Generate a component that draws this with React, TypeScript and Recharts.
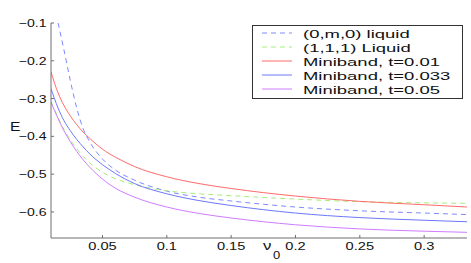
import { LineChart, Line, XAxis, YAxis } from 'recharts';

// filling factor nu_0 (x) and energies E (y)
const nu = [0.01, 0.0155, 0.02, 0.025, 0.03, 0.035, 0.04, 0.05, 0.06, 0.075, 0.1, 0.125, 0.15, 0.2, 0.25, 0.3, 0.3333];
const liquid0m0 = [null, -0.1, -0.17, -0.252, -0.325, -0.38, -0.414, -0.46, -0.489, -0.516, -0.545, -0.561, -0.571, -0.587, -0.597, -0.603, -0.607];
const liquid111 = [-0.308, -0.35, -0.381, -0.409, -0.433, -0.453, -0.47, -0.495, -0.512, -0.528, -0.544, -0.552, -0.557, -0.566, -0.573, -0.576, -0.577];
const miniband001 = [-0.23, -0.285, -0.318, -0.346, -0.369, -0.389, -0.405, -0.434, -0.455, -0.48, -0.507, -0.525, -0.538, -0.558, -0.572, -0.581, -0.587];
const miniband0033 = [-0.274, -0.325, -0.358, -0.385, -0.408, -0.428, -0.446, -0.475, -0.498, -0.525, -0.552, -0.57, -0.583, -0.603, -0.615, -0.622, -0.626];
const miniband005 = [-0.31, -0.353, -0.385, -0.414, -0.44, -0.462, -0.481, -0.513, -0.537, -0.561, -0.587, -0.604, -0.616, -0.634, -0.645, -0.651, -0.654];

const xTicks = [0.05, 0.1, 0.15, 0.2, 0.25, 0.3];
const yTicks = [-0.6, -0.5, -0.4, -0.3, -0.2, -0.1];

const series = [
  { key: 'l0m0', name: '(0,m,0) liquid', color: '#7d8aff', dash: '5 4' },
  { key: 'l111', name: '(1,1,1) Liquid', color: '#a6ee7c', dash: '5 4' },
  { key: 'm001', name: 'Miniband, t=0.01', color: '#ff6b6b', dash: undefined },
  { key: 'm0033', name: 'Miniband, t=0.033', color: '#6c78fa', dash: undefined },
  { key: 'm005', name: 'Miniband, t=0.05', color: '#d07cff', dash: undefined },
];

const data = nu.map((v, i) => ({
  nu: v,
  l0m0: liquid0m0[i],
  l111: liquid111[i],
  m001: miniband001[i],
  m0033: miniband0033[i],
  m005: miniband005[i],
}));

const FONT = '"Liberation Sans", Arial, Helvetica, sans-serif';
const AXIS = '#6e6e6e';
const W = 471;
const H = 263;
const LEFT = 51;
const BOTTOM = 25;
const plotBottom = H - BOTTOM;

const fmt = (v: number) => (v < 0 ? '\u2212' + String(Math.abs(v)) : String(v));

function XTick(props: any) {
  const { x, payload } = props;
  return (
    <g>
      <line x1={x} x2={x} y1={plotBottom} y2={plotBottom - 3} stroke={AXIS} />
      <text transform={`translate(${x},${plotBottom + 11.5}) scale(1.33,1)`} textAnchor="middle" fontSize={11} fontFamily={FONT} fill="#111">
        {fmt(payload.value)}
      </text>
    </g>
  );
}

function YTick(props: any) {
  const { y, payload } = props;
  return (
    <g>
      <line x1={LEFT} x2={LEFT + 3} y1={y} y2={y} stroke={AXIS} />
      <text transform={`translate(${LEFT - 4.5},${y + 4}) scale(1.28,1)`} textAnchor="end" fontSize={11} fontFamily={FONT} fill="#111">
        {fmt(payload.value)}
      </text>
    </g>
  );
}

function LegendBox() {
  const x0 = 252.5;
  const y0 = 25.5;
  return (
    <g>
      <rect x={x0} y={y0} width={210} height={73} fill="#fff" stroke="#333" strokeWidth={1} />
      {series.map((s, i) => {
        const cy = 33 + i * 14;
        return (
          <g key={s.key}>
            <line x1={262} x2={292} y1={cy} y2={cy} stroke={s.color} strokeWidth={1} strokeDasharray={s.dash} />
            <text transform={`translate(303,${cy + 4.5}) scale(1.68,1)`} fontSize={11} fontFamily={FONT} fill="#111">
              {s.name}
            </text>
          </g>
        );
      })}
    </g>
  );
}

function AxisLabels() {
  return (
    <g fontFamily={FONT} fill="#111">
      <text transform="translate(10,131) scale(1.2,1)" fontSize={13}>E</text>
      <text transform="translate(263,250) scale(1.3,1)" fontSize={13}>ν</text>
      <text transform="translate(273,259) scale(1.3,1)" fontSize={10}>0</text>
    </g>
  );
}

export default function App() {
  return (
    <div style={{ position: 'absolute', left: 0, top: 0, width: W, height: H, background: '#fff' }}>
      <LineChart width={W} height={H} data={data} margin={{ top: 23, right: 4, bottom: 0, left: 0 }}>
        <XAxis
          dataKey="nu"
          type="number"
          domain={[0.01, 0.3333]}
          ticks={xTicks}
          allowDataOverflow
          height={BOTTOM}
          tickSize={0}
          tickLine={false}
          stroke={AXIS}
          tick={<XTick />}
          interval={0}
        />
        <YAxis
          type="number"
          domain={[-0.669, -0.1]}
          ticks={yTicks}
          allowDataOverflow
          width={LEFT}
          tickSize={0}
          tickLine={false}
          stroke={AXIS}
          tick={<YTick />}
          interval={0}
        />
        {series.map((s) => (
          <Line
            key={s.key}
            dataKey={s.key}
            name={s.name}
            type="monotone"
            stroke={s.color}
            strokeWidth={1}
            strokeDasharray={s.dash}
            dot={false}
            activeDot={false}
            isAnimationActive={false}
          />
        ))}
        <LegendBox />
        <AxisLabels />
      </LineChart>
    </div>
  );
}
